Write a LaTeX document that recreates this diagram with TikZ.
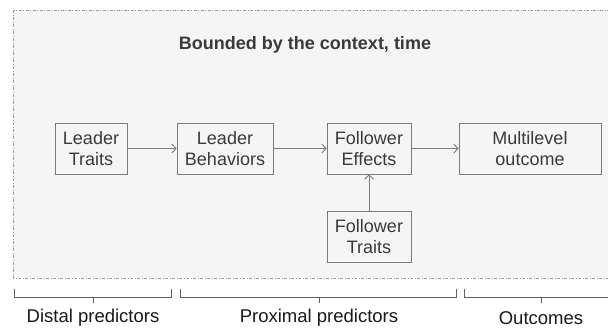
\documentclass[tikz,border=0pt]{standalone}
\usepackage{fontspec}
\setmainfont{Liberation Sans}
\usetikzlibrary{arrows.meta}
\definecolor{bgfill}{HTML}{F5F5F5}
\definecolor{bgline}{HTML}{9A9A9A}
\definecolor{boxline}{HTML}{7A7A7A}
\definecolor{txt}{HTML}{3A3A3A}
\tikzset{
  stepbox/.style={draw=boxline, line width=1pt, fill=none, text=txt, align=center,
    inner sep=0pt, font=\fontsize{18}{21}\selectfont},
  link/.style={draw=boxline, line width=0.9pt, -{Straight Barb[length=4pt,width=9pt,line width=0.9pt]}},
  brace/.style={draw=txt!80, line width=1pt},
  bracelabel/.style={text=black!90, font=\fontsize{18.5}{20}\selectfont, inner sep=0pt},
}
\begin{document}
\begin{tikzpicture}[x=1pt,y=-1pt]
\useasboundingbox (0,0) rectangle (608,327);
\fill[white] (0,0) rectangle (608,327);
% background context area
\path[fill=bgfill, draw=bgline, line width=0.8pt, dash pattern=on 3pt off 1.5pt on 1pt off 1.5pt]
  (13,10) rectangle (614,278);
\node[text=txt, font=\bfseries\fontsize{18}{20}\selectfont] (title) at (305,45) {Bounded by the context, time};
% boxes
\node[stepbox, minimum width=72pt, minimum height=51pt] (lt) at (91,148.5) {Leader\\Traits};
\node[stepbox, minimum width=96pt, minimum height=51pt] (lb) at (225,148.5) {Leader\\Behaviors};
\node[stepbox, minimum width=84pt, minimum height=51pt] (fe) at (369,148.5) {Follower\\Effects};
\node[stepbox, minimum width=142pt, minimum height=51pt] (mo) at (530,148.5) {Multilevel\\outcome};
\node[stepbox, minimum width=84pt, minimum height=51pt] (ft) at (369,236.5) {Follower\\Traits};
% connectors
\draw[link] (lt) -- (lb);
\draw[link] (lb) -- (fe);
\draw[link] (fe) -- (mo);
\draw[link] (ft) -- (fe);
% brackets
\draw[brace] (14,289) -- (14,297) -- (171,297) -- (171,289);
\draw[brace] (93,297) -- (93,303);
\draw[brace] (180,289) -- (180,297) -- (456,297) -- (456,289);
\draw[brace] (319,297) -- (319,303);
\draw[brace] (464,289) -- (464,297) -- (612,297);
\draw[brace] (541,297) -- (541,303);
\node[bracelabel] (dist) at (93,318) {Distal predictors};
\node[bracelabel] (prox) at (319,318) {Proximal predictors};
\node[bracelabel] (outc) at (541,318) {Outcomes};
\end{tikzpicture}
\end{document}
